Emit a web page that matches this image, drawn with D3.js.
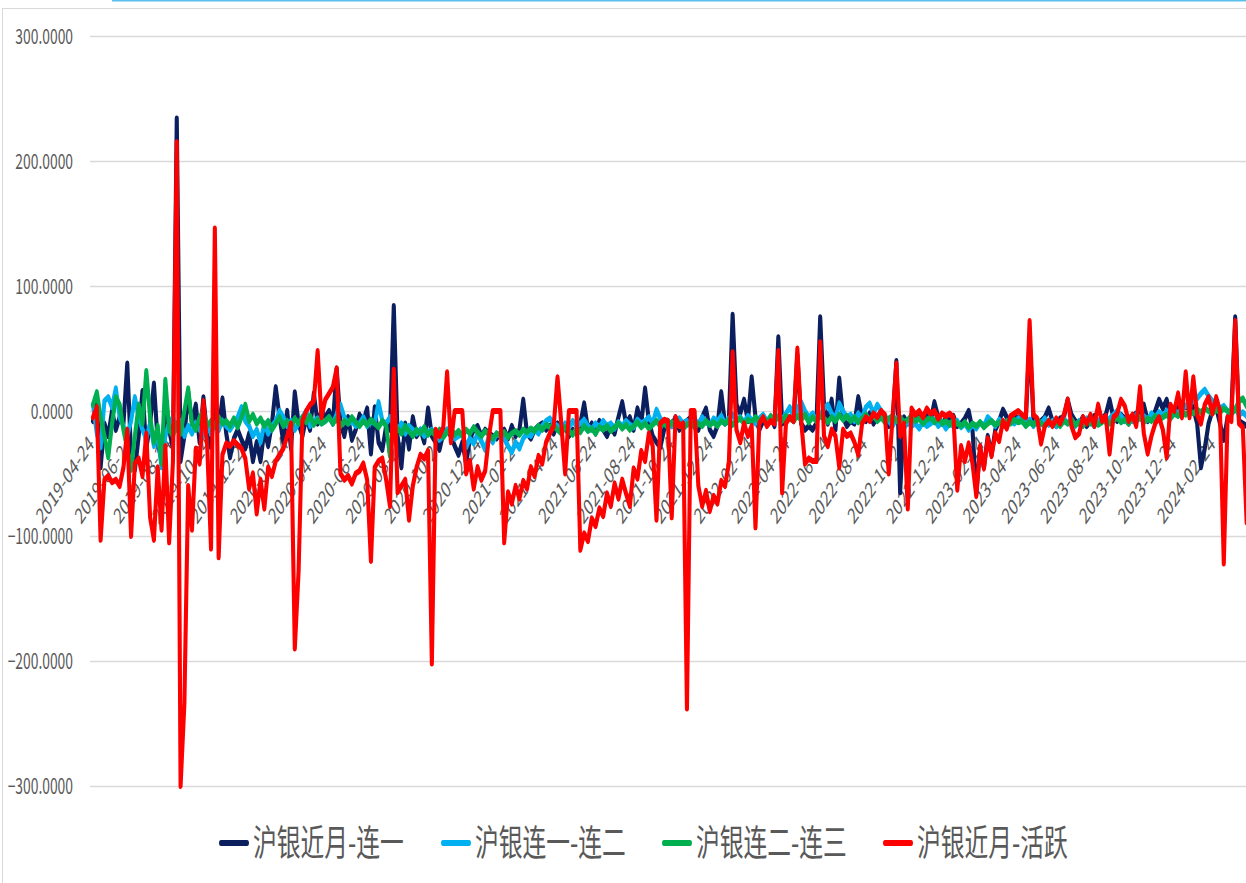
<!DOCTYPE html>
<html>
<head>
<meta charset="utf-8">
<script src="https://cdn.jsdelivr.net/npm/d3@7"></script>
<style>
  html, body { margin: 0; padding: 0; background: #fff; overflow: hidden; }
  svg { display: block; }
</style>
</head>
<body>
<svg id="chart" width="1246" height="883"></svg>
<script>
// Silver futures spreads: near month vs 1st/2nd/3rd continuous and vs the active contract
const seriesNames = ["沪银近月-连一", "沪银连一-连二", "沪银连二-连三", "沪银近月-活跃"];
const seriesColors = ["#0b1f5e", "#00b0f0", "#00b050", "#ff0000"];

// one reading every 6 calendar days starting from this date
const startDate = "2019-04-24";
const stepDays = 6;

const nearVsFirst = [
  -8, 5, -45, -10, -20, 0, -15, -5, -10, 38,
  -35, -47, -20, 16, -30, -10, 22, -25, -40, 5,
  -15, -30, 234, -40, -20, 15, -10, 5, -25, 11,
  -20, -29, 10, -15, 10, -18, -37, -22, -15, -23,
  -30, -18, -40, -25, -40, -15, -28, -10, 19, -5,
  -25, 0, -30, 15, -10, -20, -5, -15, 14, -10,
  0, -5, 0, -10, 34, -10, -20, -5, -23, -15,
  -3, -8, 2, -34, 3, -25, -31, -12, -15, 84,
  -20, -45, -10, -30, -5, -20, -15, -25, 2, -20,
  -25, -31, -18, -15, -20, -28, -35, -25, -42, -22,
  -15, -12, -20, -15, -18, -20, -22, -18, -15, -22,
  -12, -20, -15, 9, -18, -22, -15, -12, -10, -15,
  -12, -18, -10, -15, -12, -20, -15, -18, -10, 6,
  -15, -10, -18, -8, -15, -20, -12, -18, -5, 7,
  -10, -5, -15, 2, -10, 18, -8, -20, -25, -29,
  -15, -8, -12, -5, -15, -10, -8, -5, -10, -15,
  -5, 2, -15, -20, -12, 15, -10, -8, 77, 5,
  -2, 9, -8, 27, -5, -15, -8, -10, -5, -12,
  59, -10, -8, -5, -8, 45, -10, -15, -12, -15,
  -10, 75, 5, -10, 9, -15, 26, -5, -12, -8,
  -10, 11, -5, -8, -2, -10, -5, 0, -8, -12,
  -10, 40, -65, -5, -10, -3, -8, -5, -10, -4,
  -8, 7, -5, -10, -6, -8, -4, -12, -10, -6,
  0, -15, -66, -30, -45, -20, -35, -15, -8, 1,
  -5, -8, -4, -6, -5, -8, 60, -6, -10, -8,
  -5, 2, -8, -12, -6, -5, 9, -3, -8, -10,
  -5, -12, -8, -4, -10, -6, -3, 9, -5, -8,
  -3, -6, -10, -4, -2, 0, 5, -8, -5, 0,
  9, 2, 9, -5, 0, 4, 6, 3, 8, 2,
  -10, -45, -30, -10, 0, 3, -10, -23, -5, 0,
  75, -8, -10, -12
];

const firstVsSecond = [
  5, -18, -29, 8, 11, 3, 18, -5, -12, -20,
  -8, 11, -5, -15, -22, -10, -28, -18, -45, -20,
  -10, -5, -15, -8, -20, -12, -18, -10, -15, -20,
  -12, -18, -10, -15, -8, -12, -15, -10, -5, 3,
  -8, -12, -20, -15, -25, -10, -18, -12, -8, 0,
  -5, -12, -8, -15, -10, -5, 0, -12, -8, -6,
  -10, -8, -5, -10, -3, 5, -5, -10, -8, -12,
  -10, -5, -12, -8, -10, 7, -8, -10, -5, -12,
  -15, -10, -18, -12, -15, -18, -15, -20, -17, -15,
  -18, -23, -20, -15, -18, -22, -20, -18, -29, -22,
  -26, -18, -24, -31, -20, -25, -18, -20, -22, -28,
  -33, -25, -30, -22, -18, -20, -15, -18, -12, -8,
  -6, -10, -12, -15, -10, -13, -8, -12, -10, -7,
  -12, -15, -10, -13, -8, -12, -10, -14, -9, -12,
  -8, -11, -13, -7, -10, -8, -5, -10, 1, -6,
  -10, -8, -12, -9, -6, -10, -8, -12, -7, -10,
  -5, -9, -11, -6, -8, -4, -10, -6, -3, -8,
  -5, -9, -4, -7, -10, -6, -3, -8, -5, -9,
  -4, -7, -2, 3, -4, 2, 7, 0, -5, -2,
  -8, -3, 2, 5, -2, -6, 6, 0, -5, -3,
  -8, -2, -6, 3, 6, -2, 5, 0, -4, -8,
  -12, -6, -10, -14, -8, -12, -10, -14, -9, -12,
  -10, -7, -12, -9, -14, -10, -12, -8, -13, -10,
  -15, -11, -14, -9, -12, -5, -8, -12, -7, -10,
  -12, -8, -10, -6, -5, -10, -7, -12, -8, -10,
  -6, -11, -8, -12, -9, -6, -10, -7, -12, -8,
  -10, -6, -9, -12, -8, -5, -9, -6, -3, 0,
  -4, -8, -5, -8, -3, -6, -4, -7, -2, -5,
  -1, -4, 0, -3, 1, -2, 2, 4, 6, 8,
  10, 14, 17, 12, 8, 5, 2, 4, 0, -2,
  2, -3, -1, -4
];

const secondVsThird = [
  5, 15, -5, -20, -37, -10, 11, 5, -15, -30,
  -47, -20, 5, -10, 32, -5, -25, -12, -42, 25,
  -15, -20, -10, -18, 0, 18, -10, -15, -5, 0,
  -12, -8, -13, -5, -10, -8, -12, -6, -13, -5,
  5, -8, -3, -10, -6, -12, -8, -15, -10, -5,
  -12, -8, -13, -6, -10, -5, -9, -4, -11, -7,
  -10, -8, -5, -10, -6, -12, -8, -10, -5, -9,
  -12, -8, -11, -7, -10, -13, -8, -12, -36, -10,
  -14, -18, -12, -16, -20, -15, -18, -13, -19, -16,
  -20, -15, -21, -17, -14, -19, -16, -20, -15, -18,
  -13, -17, -20, -16, -19, -22, -18, -20, -17, -21,
  -18, -16, -19, -15, -17, -14, -16, -12, -15, -11,
  -13, -12, -15, -18, -13, -16, -19, -14, -17, -12,
  -16, -14, -18, -13, -15, -12, -16, -13, -10, -14,
  -11, -15, -12, -9, -13, -10, -14, -11, -8, -12,
  -10, -13, -9, -12, -10, -14, -11, -9, -13, -10,
  -12, -8, -11, -9, -12, -8, -10, -7, -11, -8,
  -6, -10, -7, -9, -5, -8, -6, -9, -4, -7,
  -5, -8, -4, -6, -8, -4, -7, -3, -9, -5,
  -8, -4, -6, -9, -5, -8, -3, -7, -4, -8,
  -5, -9, -6, -3, -7, -4, -8, -5, -9, -6,
  -4, -8, -5, -9, -7, -4, -8, -6, -10, -7,
  -5, -9, -6, -10, -8, -11, -7, -10, -12, -9,
  -13, -10, -12, -9, -13, -10, -8, -11, -9, -12,
  -8, -10, -7, -9, -8, -12, -9, -11, -7, -10,
  -12, -8, -11, -9, -12, -8, -10, -7, -11, -9,
  -12, -8, -10, -7, -11, -9, -6, -10, -8, -5,
  -9, -7, -10, -6, -8, -5, -9, -6, -8, -4,
  -7, -5, -3, -6, -2, -4, -1, -3, 0, -2,
  1, -1, 2, 0, -2, 1, -1, 2, 0, -2,
  1, 8, 10, 4
];

const nearVsActive = [
  -5, 3, -103, -55, -52, -57, -55, -60, -45, -15,
  -100, -42, -38, -52, -18, -85, -103, -45, -95, -28,
  -105, -40, 215, -300, -234, -60, -95, -30, -42, 8,
  -28, -110, 146, -117, -35, -26, -28, -24, -27, -30,
  -38, -62, -50, -82, -55, -78, -45, -52, -40, -35,
  -30, -20, -10, -190, -128, -8, 0, 5, 8, 48,
  -5, 9, 14, 19, 34, -50, -55, -52, -58, -50,
  -48, -42, -55, -120, -45, -40, -38, -55, -76, 33,
  -65, -60, -55, -87, -60, -45, -35, -38, -32, -202,
  -15, -20, -13, 31, -25, 0, 0, 0, -50, -40,
  -62, -45, -55, -48, -20, 0, 0, 0, -105, -65,
  -74, -60, -70, -56, -62, -45, -52, -36, -42, -25,
  -18, -12, 27, -10, -50, 0, 0, 0, -111, -98,
  -104, -86, -92, -78, -84, -66, -76, -58, -70, -55,
  -66, -76, -46, -54, -32, -40, -18, -28, -87, -10,
  -7, -8, -85, -5, -12, -10, -238, 0, 0, -60,
  -76, -64, -80, -68, -74, -56, -60, -42, 47, -15,
  -25, -10, -20, -12, -93, -10, -5, -12, -8, -10,
  48, -65, -10, -5, -8, 50, -8, -42, -38, -40,
  -40, 55, -20, -28, -15, -20, -45, -15, -20, -18,
  -25, -35, -10, -5, -8, -2, -5, 0, -3, -50,
  -5, 38, -20, -10, -78, 2, -3, 0, -5, 2,
  -2, 0, -6, -2, -4, -2, -5, -63, -28, -40,
  -26, -42, -68, -28, -46, -22, -36, -18, -24, -8,
  -14, -4, -2, 0, -3, -5, 72, -3, -6, -26,
  -12, -8, -12, -6, -10, -3, 9, -12, -21, -18,
  -5, -10, -3, -12, 5, -8, -4, -34, -5, -2,
  9, 4, -8, -3, -12, 19, -18, -34, -20, -10,
  -5, -15, -37, 5, 0, 14, -5, 31, -5, 27,
  -3, -10, 5, 11, -2, 11, 0, -122, -5, -8,
  72, -10, -13, -89
];

const tickLabels = [
  "2019-04-24", "2019-06-24", "2019-08-24", "2019-10-24", "2019-12-24",
  "2020-02-24", "2020-04-24", "2020-06-24", "2020-08-24", "2020-10-24", "2020-12-24",
  "2021-02-24", "2021-04-24", "2021-06-24", "2021-08-24", "2021-10-24", "2021-12-24",
  "2022-02-24", "2022-04-24", "2022-06-24", "2022-08-24", "2022-10-24", "2022-12-24",
  "2023-02-24", "2023-04-24", "2023-06-24", "2023-08-24", "2023-10-24", "2023-12-24",
  "2024-02-24"
];
const yTicks = [300, 200, 100, 0, -100, -200, -300];
const lastVisibleDate = "2024-04-14";

// ---- layout ----
const W = 1246, H = 883;
const squeeze = 0.66;                // the drawing is laid out narrow: every x is compressed
const px = v => v / squeeze;         // screen x -> inner x
const plotLeft = 90, plotRight = 1246, dataLeft = 93;
const fontFamily = "'Noto Sans CJK SC', 'Noto Sans', sans-serif";
const textColor = "#595959";

const svg = d3.select("#chart");

// outer frame and the thin accent line above it
svg.append("rect")
  .attr("x", 2.5).attr("y", 8.5).attr("width", W + 20).attr("height", H + 20)
  .attr("fill", "none").attr("stroke", "#d9d9d9").attr("stroke-width", 1);
svg.append("line")
  .attr("x1", 112).attr("x2", W).attr("y1", 0.75).attr("y2", 0.75)
  .attr("stroke", "#5cc0ec").attr("stroke-width", 1.5);

const root = svg.append("g").attr("transform", `scale(${squeeze},1)`);

const parse = d3.timeParse("%Y-%m-%d");
const fmt = d3.timeFormat("%Y-%m-%d");
const t0 = parse(startDate);
const dates = nearVsFirst.map((_, i) => d3.timeDay.offset(t0, i * stepDays));

const x = d3.scaleTime()
  .domain([t0, parse(lastVisibleDate)])
  .range([px(dataLeft), px(plotRight)]);
const y = d3.scaleLinear().domain([-300, 300]).range([786, 36]);

// y axis with full-width gridlines
const yAxis = root.append("g")
  .attr("transform", `translate(${px(plotLeft)},0)`)
  .call(d3.axisLeft(y)
    .tickValues(yTicks)
    .tickFormat(d3.format(".4f"))
    .tickSize(-(px(plotRight) - px(plotLeft)))
    .tickPadding(px(plotLeft) - px(73)));
yAxis.select(".domain").remove();
yAxis.selectAll(".tick line").attr("stroke", "#d9d9d9").attr("stroke-width", 1.6);
yAxis.selectAll(".tick text")
  .attr("font-family", fontFamily).attr("font-size", 21)
  .attr("fill", textColor).attr("dy", "0.34em");

// date axis crossing at zero, slanted labels
const xAxis = root.append("g")
  .attr("transform", `translate(0,${y(0)})`)
  .call(d3.axisBottom(x)
    .tickValues(tickLabels.map(parse))
    .tickFormat(fmt)
    .tickSize(0));
xAxis.select(".domain").remove();
xAxis.selectAll(".tick text")
  .attr("font-family", fontFamily).attr("font-size", 22)
  .attr("fill", textColor)
  .attr("text-anchor", "end")
  .attr("x", 0).attr("y", 0).attr("dy", "0.35em")
  .attr("transform", `translate(${px(-2)},29) rotate(-45)`);

// series lines
const series = [nearVsFirst, firstVsSecond, secondVsThird, nearVsActive];
const line = d3.line()
  .x((d, i) => x(dates[i]))
  .y(d => y(d));

root.append("g").selectAll("path")
  .data(series)
  .join("path")
  .attr("d", d => line(d))
  .attr("fill", "none")
  .attr("stroke", (d, i) => seriesColors[i])
  .attr("stroke-width", 6.2)
  .attr("stroke-linejoin", "round")
  .attr("stroke-linecap", "round");

// legend
const legendX = [218, 440, 661, 882];
const legendY = 843;
const legend = root.append("g");
seriesNames.forEach((name, i) => {
  legend.append("line")
    .attr("x1", px(legendX[i] + 3)).attr("x2", px(legendX[i] + 29))
    .attr("y1", legendY).attr("y2", legendY)
    .attr("stroke", seriesColors[i]).attr("stroke-width", 6)
    .attr("stroke-linecap", "round");
  legend.append("text")
    .attr("x", px(legendX[i] + 35)).attr("y", legendY)
    .attr("dy", "0.36em")
    .attr("font-family", fontFamily).attr("font-size", 36)
    .attr("fill", textColor)
    .text(name);
});
</script>
</body>
</html>
